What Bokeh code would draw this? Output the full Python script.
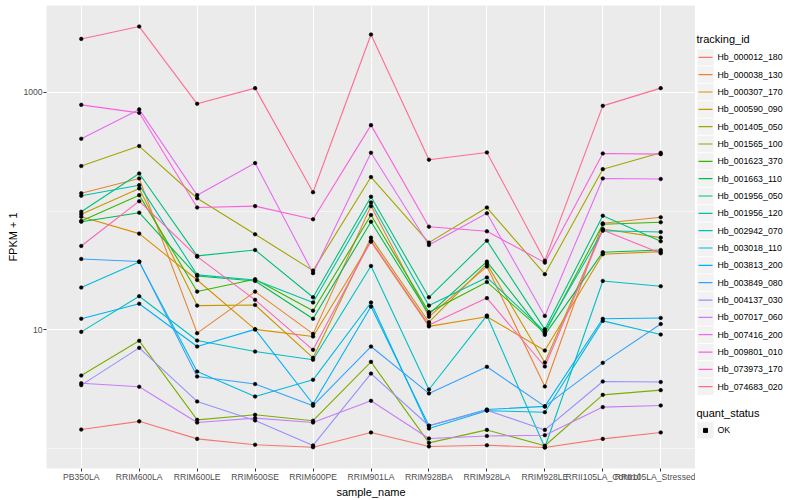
import math
from bokeh.plotting import figure
from bokeh.models import Range1d, FixedTicker, NumeralTickFormatter
from bokeh.layouts import row
from bokeh.embed import file_html
from bokeh.resources import INLINE
from bokeh.core.properties import value

samples = ["PB350LA", "RRIM600LA", "RRIM600LE", "RRIM600SE", "RRIM600PE",
           "RRIM901LA", "RRIM928BA", "RRIM928LA", "RRIM928LE",
           "RRII105LA_Control", "RRII105LA_Stressed"]

tracking_ids = ["Hb_000012_180", "Hb_000038_130", "Hb_000307_170", "Hb_000590_090",
                "Hb_001405_050", "Hb_001565_100", "Hb_001623_370", "Hb_001663_110",
                "Hb_001956_050", "Hb_001956_120", "Hb_002942_070", "Hb_003018_110",
                "Hb_003813_200", "Hb_003849_080", "Hb_004137_030", "Hb_007017_060",
                "Hb_007416_200", "Hb_009801_010", "Hb_073973_170", "Hb_074683_020"]

colors = ["#F8766D", "#EA8331", "#D89000", "#C09B00", "#A3A500", "#7CAE00", "#39B600",
          "#00BB4E", "#00BF7D", "#00C1A3", "#00BFC4", "#00BAE0", "#00B0F6", "#35A2FF",
          "#9590FF", "#C77CFF", "#E76BF3", "#FA62DB", "#FF62BC", "#FF6C91"]

# FPKM + 1 per sample (same order as samples)
hb_000012_180 = [1.45, 1.70, 1.21, 1.08, 1.03, 1.37, 1.045, 1.07, 1.025, 1.21, 1.37]
hb_000038_130 = [141, 188, 9.38, 21.0, 9.25, 110, 12.9, 34.2, 3.34, 78.8, 88.5]
hb_000307_170 = [89.5, 64.5, 26.3, 10.1, 8.79, 55.2, 10.7, 12.9, 6.70, 43.3, 45.5]
hb_000590_090 = [93.8, 155, 16.0, 16.2, 5.82, 59.7, 11.6, 35.9, 5.31, 70.6, 59.7]
hb_001405_050 = [239, 352, 128, 63.7, 31.5, 193, 54.2, 107, 29.4, 225, 309]
hb_001565_100 = [4.13, 8.09, 1.75, 1.93, 1.72, 5.38, 1.12, 1.44, 1.06, 2.84, 3.11]
hb_001623_370 = [82.4, 136, 21.0, 26.7, 14.5, 92.5, 14.1, 25.3, 9.38, 77.3, 80.4]
hb_001663_110 = [81.3, 96.8, 28.4, 25.8, 12.4, 81.3, 13.55, 37.5, 9.08, 45.0, 47.0]
hb_001956_050 = [98.6, 207, 41.9, 47.0, 18.8, 132, 18.8, 56.3, 10.1, 91.3, 55.6]
hb_001956_120 = [134.5, 165, 29.0, 26.3, 17.0, 118, 16.0, 27.6, 9.68, 68.3, 66.6]
hb_002942_070 = [9.62, 19.2, 8.13, 6.57, 5.60, 34.5, 3.15, 13.2, 1.025, 25.8, 23.3]
hb_003018_110 = [22.7, 37.3, 4.46, 2.75, 3.80, 17.0, 1.48, 2.09, 2.03, 11.9, 9.13]
hb_003813_200 = [12.4, 16.6, 7.24, 10.1, 2.38, 15.7, 1.56, 2.14, 2.27, 12.4, 12.6]
hb_003849_080 = [39.5, 37.6, 4.05, 3.50, 2.30, 7.24, 2.92, 4.89, 2.27, 5.28, 11.2]
hb_004137_030 = [3.43, 7.06, 2.50, 1.73, 1.066, 4.29, 1.56, 2.11, 1.44, 3.68, 3.64]
hb_007017_060 = [3.56, 3.32, 1.66, 1.81, 1.66, 2.53, 1.22, 1.28, 1.30, 2.24, 2.31]
hb_007416_200 = [405, 716, 136, 253, 30.0, 309, 51.8, 95.7, 13.1, 188, 186]
hb_009801_010 = [782, 670, 107, 110, 85.2, 528, 73.8, 67.5, 36.8, 305, 301]
hb_073973_170 = [50.8, 121, 41.3, 17.9, 6.79, 56.3, 11.0, 18.5, 4.92, 69.2, 44.1]
hb_074683_020 = [2805, 3565, 798, 1081, 144, 3055, 270, 311, 38.2, 767, 1081]

series = [hb_000012_180, hb_000038_130, hb_000307_170, hb_000590_090, hb_001405_050,
          hb_001565_100, hb_001623_370, hb_001663_110, hb_001956_050, hb_001956_120,
          hb_002942_070, hb_003018_110, hb_003813_200, hb_003849_080, hb_004137_030,
          hb_007017_060, hb_007416_200, hb_009801_010, hb_073973_170, hb_074683_020]

quant_status = ["OK"]

FONT = "Liberation Sans"

allv = [v for s in series for v in s]
lmin, lmax = math.log10(min(allv)), math.log10(max(allv))
pad = 0.05 * (lmax - lmin)

xs = list(range(len(samples)))

MAIN_W, H = 695, 500
p = figure(width=MAIN_W, height=H,
           x_range=Range1d(-0.6, len(samples) - 1 + 0.6),
           y_range=Range1d(10 ** (lmin - pad), 10 ** (lmax + pad)),
           y_axis_type="log", output_backend="svg", toolbar_location=None,
           min_border_left=46, min_border_right=0, min_border_top=5, min_border_bottom=0)
p.background_fill_color = "#EBEBEB"
p.border_fill_color = "white"
p.outline_line_color = None

for vals, c in zip(series, colors):
    p.line(xs, vals, line_color=c, line_width=1.1)
for vals in series:
    p.scatter(xs, vals, marker="circle", size=3.6, fill_color="black",
              line_color="black", line_width=0.6)

p.xaxis.ticker = FixedTicker(ticks=xs)
p.xaxis.major_label_overrides = {i: s for i, s in enumerate(samples)}
p.yaxis.ticker = FixedTicker(ticks=[10, 1000], minor_ticks=[1, 100])
p.yaxis.formatter = NumeralTickFormatter(format="0")
p.xaxis.axis_label = "sample_name"
p.yaxis.axis_label = "FPKM + 1"

for ax in (p.xaxis, p.yaxis):
    ax.axis_line_color = None
    ax.minor_tick_line_color = None
    ax.major_tick_line_color = "#333333"
    ax.major_tick_in = 0
    ax.major_tick_out = 3
    ax.major_label_standoff = 0
    ax.major_label_text_font = FONT
    ax.major_label_text_font_size = "8.6px"
    ax.major_label_text_color = "#4D4D4D"
    ax.axis_label_text_font = FONT
    ax.axis_label_text_font_size = "11px"
    ax.axis_label_text_font_style = "normal"
    ax.axis_label_text_color = "black"
    ax.axis_label_standoff = 1

p.xgrid.grid_line_color = "white"
p.xgrid.grid_line_width = 1.07
p.ygrid.grid_line_color = "white"
p.ygrid.grid_line_width = 1.07
p.ygrid.minor_grid_line_color = "white"
p.ygrid.minor_grid_line_width = 0.55

# legend panel: coordinates are page pixels (x right, y down); its frame is
# aligned with the plotting panel, which spans y = 5 .. 467
LW = 800 - MAIN_W
leg = figure(width=LW, height=H, x_range=Range1d(MAIN_W, 800), y_range=Range1d(467, 5),
             output_backend="svg", toolbar_location=None,
             x_axis_location=None, y_axis_location=None, min_border=0)
leg.grid.visible = False
leg.outline_line_color = None
leg.background_fill_color = "white"
leg.border_fill_color = "white"

key_y = [56.7 + 17.3 * i for i in range(len(tracking_ids))]
leg.text(x=[696], y=[38], text=["tracking_id"], text_font=value(FONT),
         text_font_size="11px", text_baseline="middle", text_color="black")
leg.rect(x=705, y=key_y, width=16.3, height=16.3, fill_color="#F2F2F2", line_color=None)
leg.segment(x0=698, x1=712, y0=key_y, y1=key_y, line_color=colors, line_width=1.2)
leg.text(x=717, y=key_y, text=tracking_ids, text_font=value(FONT),
         text_font_size="8.8px", text_baseline="middle", text_color="black")

ok_y = [429]
leg.text(x=[696], y=[412], text=["quant_status"], text_font=value(FONT),
         text_font_size="11px", text_baseline="middle", text_color="black")
leg.rect(x=705, y=ok_y, width=16.3, height=16.3, fill_color="#F2F2F2", line_color=None)
leg.scatter(x=[705], y=ok_y, marker="square", size=4, fill_color="black", line_color="black")
leg.text(x=717, y=ok_y, text=quant_status, text_font=value(FONT),
         text_font_size="8.8px", text_baseline="middle", text_color="black")

layout = row(p, leg)
open("out.html", "w").write(file_html(layout, INLINE))
